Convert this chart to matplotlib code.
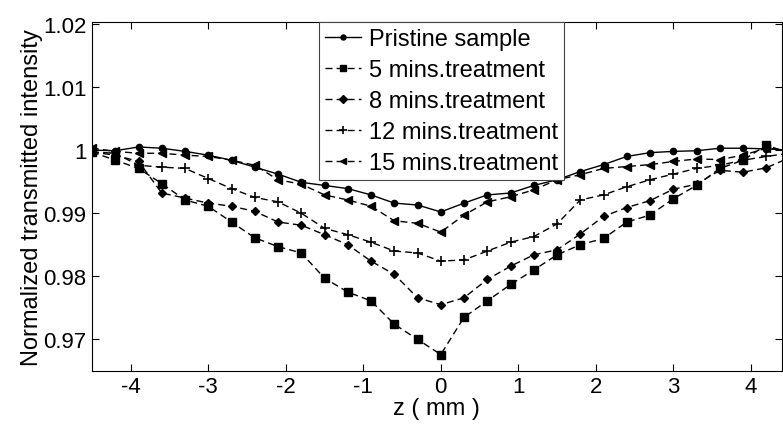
import matplotlib
matplotlib.use("Agg")
import matplotlib.pyplot as plt
import numpy as np

plt.rcParams['font.family'] = ['Liberation Sans', 'DejaVu Sans']
plt.rcParams['axes.unicode_minus'] = False
plt.rcParams['xtick.direction'] = 'in'
plt.rcParams['ytick.direction'] = 'in'

# z positions (mm)
z = [-4.5, -4.2, -3.9, -3.6, -3.3, -3.0, -2.7, -2.4, -2.1, -1.8, -1.5, -1.2, -0.9, -0.6, -0.3,
     0.0, 0.3, 0.6, 0.9, 1.2, 1.5, 1.8, 2.1, 2.4, 2.7, 3.0, 3.3, 3.6, 3.9, 4.2, 4.5]

pristine = [1.0000, 0.9999, 1.0005, 1.0003, 0.9998, 0.9992, 0.9984, 0.9973, 0.9962, 0.9949, 0.9944,
            0.9939, 0.9929, 0.9916, 0.9913, 0.9902, 0.9916, 0.9929, 0.9932, 0.9944, 0.9953, 0.9966,
            0.9977, 0.9990, 0.9996, 0.9998, 0.9999, 1.0003, 1.0003, 1.0002, 1.0000]
t5 = [0.9997, 0.9984, 0.9971, 0.9947, 0.9921, 0.9911, 0.9886, 0.9861, 0.9847, 0.9837, 0.9797,
      0.9775, 0.9761, 0.9724, 0.9700, 0.9676, 0.9735, 0.9761, 0.9787, 0.9810, 0.9834, 0.9850,
      0.9860, 0.9886, 0.9897, 0.9923, 0.9944, 0.9971, 0.9984, 1.0008, 0.9995]
t8 = [0.9997, 0.9992, 0.9982, 0.9932, 0.9924, 0.9916, 0.9911, 0.9903, 0.9886, 0.9881, 0.9866,
      0.9850, 0.9824, 0.9803, 0.9766, 0.9755, 0.9766, 0.9795, 0.9816, 0.9834, 0.9842, 0.9867,
      0.9895, 0.9909, 0.9920, 0.9938, 0.9946, 0.9968, 0.9965, 0.9972, 0.9988]
t12 = [0.9997, 0.9995, 0.9976, 0.9973, 0.9971, 0.9955, 0.9939, 0.9925, 0.9918, 0.9900, 0.9876,
       0.9866, 0.9854, 0.9840, 0.9837, 0.9824, 0.9826, 0.9840, 0.9854, 0.9863, 0.9883, 0.9921,
       0.9929, 0.9942, 0.9953, 0.9962, 0.9971, 0.9976, 0.9984, 0.9990, 0.9995]
t15 = [1.0003, 0.9998, 0.9995, 0.9995, 0.9992, 0.9990, 0.9984, 0.9976, 0.9953, 0.9946, 0.9929,
       0.9921, 0.9911, 0.9888, 0.9884, 0.9870, 0.9897, 0.9918, 0.9926, 0.9937, 0.9953, 0.9961,
       0.9971, 0.9974, 0.9977, 0.9982, 0.9986, 0.9985, 0.9992, 1.0003, 1.0000]

labels = ['Pristine sample', '5 mins.treatment', '8 mins.treatment',
          '12 mins.treatment', '15 mins.treatment']

fig = plt.figure(figsize=(7.83, 4.27), dpi=100)
ax = fig.add_axes([0.1175, 0.129, 0.881, 0.817])

dash = (0, (5, 3))
ax.plot(z, pristine, '-', color='k', lw=1, marker='o', ms=4.5, label=labels[0])
ax.plot(z, t5, linestyle=dash, color='k', lw=1, marker='s', ms=6, label=labels[1])
ax.plot(z, t8, linestyle=dash, color='k', lw=1, marker='D', ms=4.5, label=labels[2])
ax.plot(z, t12, linestyle=dash, color='k', lw=1, marker='+', ms=7, mew=1.2, label=labels[3])
ax.plot(z, t15, linestyle=dash, color='k', lw=1, marker='<', ms=6, label=labels[4])

ax.set_xlim(-4.5, 4.4)
ax.set_ylim(0.965, 1.0203)
ax.set_xticks([-4, -3, -2, -1, 0, 1, 2, 3, 4])
ax.set_yticks([0.97, 0.98, 0.99, 1.0, 1.01, 1.02])
ax.set_yticklabels(['0.97', '0.98', '0.99', '1', '1.01', '1.02'])
ax.tick_params(top=True, right=True, length=5, width=0.8, labelsize=16, pad=4)
for s in ax.spines.values():
    s.set_linewidth(0.8)

ax.set_xlabel('z ( mm )', fontsize=17, labelpad=0)
ax.set_ylabel('Normalized transmitted intensity', fontsize=17, labelpad=0)

leg = ax.legend(loc='upper left', bbox_to_anchor=(0.329, 1.0), fontsize=17,
                handlelength=1.55, handletextpad=0.3, borderpad=0.25, borderaxespad=0,
                labelspacing=0.38, fancybox=False, framealpha=1, markerscale=0.8)
leg.get_frame().set_edgecolor('#444444')
leg.get_frame().set_linewidth(0.8)

fig.savefig('out.png', dpi=100)
